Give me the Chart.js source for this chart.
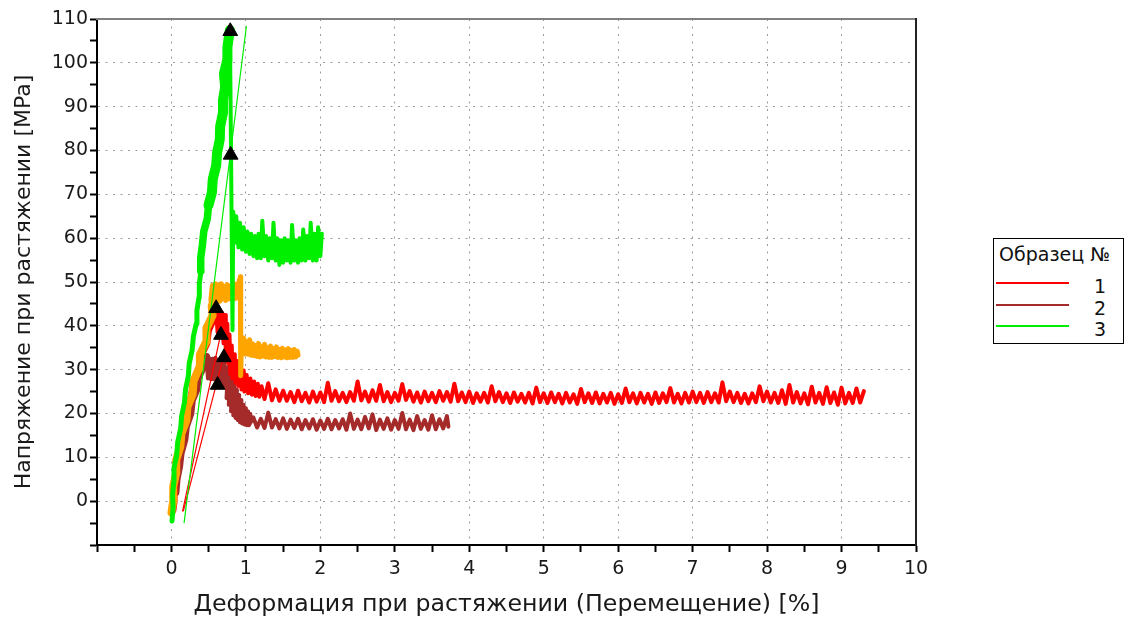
<!DOCTYPE html>
<html lang="ru">
<head>
<meta charset="utf-8">
<title>Напряжение при растяжении</title>
<script src="https://cdn.jsdelivr.net/npm/chart.js@4.4.0/dist/chart.umd.min.js"></script>
<style>
  html, body { margin: 0; padding: 0; background: #fff; }
  #wrap { position: relative; width: 1126px; height: 620px; }
  #tensionChart { position: absolute; left: 0; top: 0; }
  #legendBox {
    position: absolute; left: 993px; top: 238px; width: 131px; height: 106px;
    box-sizing: border-box; border: 1.5px solid #000; background: #fff;
    font-family: "DejaVu Sans", sans-serif; font-size: 19px; color: #111;
  }
  #legendBox .title { position: absolute; left: 5px; top: 4px; white-space: nowrap; }
  #legendBox .row { position: absolute; left: 0; width: 128px; height: 22px; }
  #legendBox .swatch { position: absolute; left: 2px; top: 7px; width: 73px; height: 2px; }
  #legendBox .num { position: absolute; left: 100px; top: 0; line-height: 22px; }
</style>
</head>
<body>
<div id="wrap">
  <canvas id="tensionChart" width="1126" height="620"></canvas>
  <div id="legendBox"><div class="title">Образец №</div></div>
</div>
<script>
// Ejes
const strainTicks = [0, 1, 2, 3, 4, 5, 6, 7, 8, 9, 10];
const stressTicks = [0, 10, 20, 30, 40, 50, 60, 70, 80, 90, 100, 110];

// Leyenda
const seriesNames = ['1', '2', '3'];
const seriesColors = ['#ff0000', '#a52a2a', '#00ee00'];
const extraColor = '#ffa500';

// Образец 1 (rojo): [deformación %, tensión MPa] - subida
const rise1 = [
  [0.02,-2],[0.035,0],[0.035,3],[0.06,6],[0.065,9],[0.11,12],[0.125,15],[0.185,18],[0.20,21],[0.27,24],
  [0.29,27],[0.37,30],[0.39,33],[0.475,36],[0.497,39],[0.577,42],[0.60,43]
];
// Образец 1 - pico, caída y meseta
const tail1 = [
  [0.60,43],[0.62,38.5],[0.64,43.3],[0.66,37.5],[0.68,43],[0.70,36],[0.72,42.5],[0.73,34],[0.75,40.5],[0.76,31.5],
  [0.78,38],[0.79,29],[0.81,35.5],[0.82,28],[0.85,33.5],[0.86,27],[0.89,32],[0.90,26.3],[0.93,30.8],[0.94,25.5],
  [0.97,29.8],[0.98,25],[1.01,28.8],[1.03,24.6],[1.06,28],[1.08,24.3],[1.11,27.3],[1.13,24.0],[1.16,26.8],[1.18,23.8],
  [1.21,26.2],
  [1.25,23.3],[1.30,26.9],[1.35,23.0],[1.40,25.5],[1.45,22.9],[1.50,25.2],[1.55,22.9],[1.60,24.9],[1.65,22.6],[1.70,25.2],
  [1.75,22.8],[1.80,24.7],[1.85,22.5],[1.90,25.0],[1.95,22.7],[2.00,24.8],[2.05,22.6],[2.10,27.0],[2.15,22.9],[2.20,25.1],
  [2.25,22.8],[2.30,24.7],[2.35,22.6],[2.40,24.9],[2.45,22.9],[2.50,27.3],[2.55,23.0],[2.60,25.0],[2.65,22.7],[2.70,25.3],
  [2.75,22.9],[2.80,26.5],[2.85,22.8],[2.90,24.9],[2.95,22.6],[3.00,24.7],[3.05,22.9],[3.10,26.7],[3.15,23.1],[3.20,25.1],
  [3.25,22.7],[3.30,24.8],[3.35,22.5],[3.40,25.0],[3.45,22.8],[3.50,24.7],[3.55,22.6],[3.60,25.1],[3.65,22.9],[3.70,24.9],
  [3.75,22.7],[3.80,26.8],[3.85,22.8],[3.90,24.8],[3.95,22.6],[4.00,25.0],[4.05,22.4],[4.10,24.6],[4.15,22.7],[4.20,24.7],
  [4.25,22.5],[4.30,26.2],[4.35,22.8],[4.40,24.9],[4.45,22.6],[4.50,24.6],[4.55,22.4],[4.60,24.8],[4.65,22.7],[4.70,24.5],
  [4.75,22.5],[4.80,24.7],[4.85,22.3],[4.90,25.9],[4.95,22.6],[5.00,24.6],[5.05,22.4],[5.10,24.8],[5.15,22.6],[5.20,24.5],
  [5.25,22.3],[5.30,24.7],[5.35,22.5],[5.40,24.4],[5.45,22.2],[5.50,25.6],[5.55,22.6],[5.60,24.6],[5.65,22.4],[5.70,24.8],
  [5.75,22.3],[5.80,24.5],[5.85,22.5],[5.90,24.7],[5.95,22.2],[6.00,24.4],[6.05,22.4],[6.10,25.7],[6.15,22.6],[6.20,24.6],
  [6.25,22.3],[6.30,24.7],[6.35,22.5],[6.40,24.5],[6.45,22.2],[6.50,24.8],[6.55,22.4],[6.60,24.6],[6.65,22.6],[6.70,25.8],
  [6.75,22.5],[6.80,24.5],[6.85,22.3],[6.90,24.7],[6.95,22.5],[7.00,25.0],[7.05,22.6],[7.10,24.7],[7.15,22.4],[7.20,24.9],
  [7.25,22.6],[7.30,24.6],[7.35,22.5],[7.40,27.1],[7.45,22.8],[7.50,25.0],[7.55,22.6],[7.60,24.7],[7.65,22.4],[7.70,24.5],
  [7.75,22.3],[7.80,24.6],[7.85,22.6],[7.90,26.2],[7.95,22.8],[8.00,25.0],[8.05,22.5],[8.10,24.7],[8.15,22.4],[8.20,25.3],
  [8.25,22.2],[8.30,26.5],[8.35,22.5],[8.40,24.9],[8.45,22.3],[8.50,24.6],[8.55,22.1],[8.60,26.1],[8.65,22.5],[8.70,24.7],
  [8.75,22.2],[8.80,26.0],[8.85,22.4],[8.90,24.8],[8.95,22.0],[9.00,25.9],[9.05,22.3],[9.10,24.7],[9.15,22.4],[9.20,25.7],
  [9.25,22.5],[9.30,25.1]
];

// Образец 2 (marrón)
const rise2 = [
  [0.06,2],[0.075,5],[0.11,8],[0.13,11],[0.18,14],[0.20,17],[0.26,20],[0.28,23],[0.342,25.5],
  [0.358,28],[0.442,31],[0.47,33]
];
const tail2 = [
  [0.47,33],[0.49,28],[0.51,32.6],[0.53,27.8],[0.55,32.5],[0.57,27.8],[0.59,32.7],[0.61,27.5],[0.63,32.3],[0.65,27.3],
  [0.67,32.5],[0.69,26.8],[0.71,32],[0.72,26],
  [0.76,30.6],[0.74,23.5],[0.79,29.2],[0.77,22],[0.82,28],[0.80,20.5],[0.85,26.6],[0.83,19.6],[0.88,25.4],[0.86,19],
  [0.91,24.2],[0.89,18.5],[0.94,23.1],[0.92,18],[0.97,22],[0.95,17.7],[1.00,21.2],[0.98,17.5],[1.03,20.5],[1.01,17.3],
  [1.06,19.9],[1.04,17.3],
  [1.10,19.1],[1.15,16.8],[1.20,18.8],[1.25,16.7],[1.30,20.2],[1.35,16.8],[1.40,18.7],[1.45,16.6],[1.50,18.9],[1.55,16.5],
  [1.60,18.6],[1.65,16.7],[1.70,18.8],[1.75,16.4],[1.80,18.5],[1.85,16.6],[1.90,18.7],[1.95,16.3],[2.00,18.4],[2.05,16.5],
  [2.10,18.8],[2.15,16.4],[2.20,18.5],[2.25,16.6],[2.30,18.7],[2.35,16.3],[2.40,20.0],[2.45,16.5],[2.50,18.6],[2.55,16.4],
  [2.60,19.2],[2.65,16.6],[2.70,19.8],[2.75,16.2],[2.80,18.6],[2.85,16.5],[2.90,18.9],[2.95,16.3],[3.00,18.5],[3.05,16.5],
  [3.10,20.1],[3.15,16.4],[3.20,18.6],[3.25,16.2],[3.30,19.4],[3.35,16.5],[3.40,18.5],[3.45,16.3],[3.50,19.6],[3.55,16.4],
  [3.60,18.7],[3.65,16.6],[3.70,19.4],[3.72,17.0]
];

// Образец 3 (verde): subida (baja, media, alta), caída y meseta
const rise3Low = [
  [0.008,-4.5],[0.022,-1.5],[0.015,1.5],[0.032,4.5],[0.034,7.5],[0.07,10.5],[0.084,13.5],[0.123,16.5],[0.137,19.5],[0.175,22.5],
  [0.189,25.5],[0.226,28.5],[0.239,31.5],[0.278,34.5],[0.294,37.5],[0.333,40.5],[0.342,43.5],[0.37,46.5],[0.374,49.5],[0.396,52.5]
];
const rise3Mid = [
  [0.396,52.5],[0.393,55.5],[0.416,58.5],[0.434,61.5],[0.482,64.5],[0.498,67.5]
];
const rise3High = [
  [0.498,67.5],[0.544,70.5],[0.555,73.5],[0.60,76.5],[0.613,79.5],[0.649,82.5],[0.654,85.5],
  [0.691,88.5],[0.692,91.5],[0.721,94.5],[0.705,97.5],[0.747,100.5],[0.751,103.5],[0.772,106],[0.785,107.5]
];
const tail3 = [
  [0.785,107.5],[0.80,80],[0.82,39],[0.83,66],
  [0.85,58.9],[0.87,65.0],[0.90,57.9],[0.92,63.5],[0.95,57.4],[0.97,62.5],[1.00,56.9],[1.02,61.5],[1.05,56.4],[1.07,61.0],
  [1.10,55.9],[1.12,60.5],[1.15,55.4],[1.17,61.0],[1.20,55.4],[1.22,64.0],[1.25,55.9],[1.27,60.5],[1.30,54.9],[1.32,60.0],
  [1.35,55.4],[1.37,63.5],[1.40,54.9],[1.42,60.0],[1.45,53.9],[1.47,59.5],[1.50,54.4],[1.52,60.0],[1.55,54.9],[1.57,59.5],
  [1.60,54.4],[1.62,63.0],[1.65,54.9],[1.67,59.5],[1.70,54.4],[1.72,60.0],[1.75,54.9],[1.77,62.0],[1.80,54.9],[1.82,60.5],
  [1.85,55.4],[1.87,63.5],[1.90,54.9],[1.92,61.0],[1.95,54.9],[1.97,62.5],[2.00,55.9],[2.02,61.0]
];

// Curva naranja (sin entrada en la leyenda)
const riseOrange = [
  [0.0,-2.6],[0.027,0.4],[0.024,3.4],[0.064,6.4],[0.064,9.4],[0.119,12.4],[0.134,15.4],[0.201,18.4],[0.213,21.4],[0.285,24.4],
  [0.297,27.4],[0.372,30.4],[0.382,33.4],[0.467,36.4],[0.47,39.4],[0.553,42.4],[0.54,44.5]
];
const tailOrange = [
  [0.54,44.5],[0.53,46],[0.55,49.2],[0.57,45.7],[0.59,49.6],[0.61,45.9],[0.63,49.3],[0.65,45.6],[0.67,49.6],[0.69,46.1],
  [0.71,49.0],[0.73,45.8],[0.75,49.4],[0.77,46.2],[0.79,49.1],[0.81,45.9],[0.83,49.8],[0.85,46.2],[0.87,49.4],[0.89,46.4],
  [0.91,50.4],[0.92,46.8],[0.925,51.2],[0.93,28.6],[0.94,36.5],
  [0.95,33.8],[0.97,37.2],[0.99,33.6],[1.01,36.4],[1.03,33.5],[1.05,36.8],[1.07,33.3],[1.09,35.9],[1.11,33.2],[1.13,35.5],
  [1.15,33.0],[1.17,36.0],[1.19,32.9],[1.21,35.2],[1.23,33.1],[1.25,35.8],[1.27,32.9],[1.29,35.0],[1.31,32.8],[1.33,35.4],
  [1.35,32.8],[1.37,34.8],[1.39,33.0],[1.41,35.2],[1.43,32.8],[1.45,34.6],[1.47,32.7],[1.49,34.9],[1.51,32.9],[1.53,34.5],
  [1.55,32.7],[1.57,34.8],[1.59,32.8],[1.61,34.4],[1.63,32.8],[1.65,34.6],[1.67,32.9],[1.69,34.2],[1.70,33.3]
];

// Rectas de módulo
const modulusLine1 = [[0.15,-2.2],[0.665,38.4]];
const modulusLine2 = [[0.16,-2.2],[0.705,33.3]];
const modulusLine3 = [[0.17,-4.9],[1.006,108.3]];

// Marcadores (triángulos)
const markerPoints = [[0.79,107.2],[0.795,79],[0.60,44],[0.665,37.9],[0.705,32.8],[0.62,26.5]];

const fontFamily = '"DejaVu Sans", Verdana, sans-serif';
const toPoints = pairs => pairs.map(p => ({ x: p[0], y: p[1] }));

function lineDataset(pairs, color, width) {
    return {
        data: toPoints(pairs),
        borderColor: color,
        backgroundColor: color,
        borderWidth: width,
        borderJoinStyle: 'round',
        borderCapStyle: 'round',
        pointRadius: 0,
        showLine: true,
        fill: false,
        tension: 0
    };
}

// Rejilla punteada solo en los valores enteros
function gridColor(ticks, lo, hi) {
    return function(ctx) {
        if (!ctx.tick) return 'rgba(0,0,0,0)';
        const v = ctx.tick.value;
        return (ticks.includes(v) && v > lo && v < hi) ? '#9a9a9a' : 'rgba(0,0,0,0)';
    };
}

function createTensionChart() {
    const ctx = document.getElementById('tensionChart').getContext('2d');
    const markers = {
        data: toPoints(markerPoints),
        showLine: false,
        pointStyle: 'triangle',
        pointRadius: 8.5,
        backgroundColor: '#000',
        borderColor: '#000',
        borderWidth: 1
    };
    return new Chart(ctx, {
        type: 'scatter',
        data: {
            datasets: [
                markers,
                lineDataset(modulusLine3, seriesColors[2], 1.2),
                lineDataset(modulusLine1, seriesColors[0], 1.2),
                lineDataset(modulusLine2, seriesColors[0], 1.2),
                lineDataset(tail3, seriesColors[2], 4),
                lineDataset(rise3High, seriesColors[2], 10),
                lineDataset(rise3Mid, seriesColors[2], 7.5),
                lineDataset(rise3Low, seriesColors[2], 5),
                lineDataset(tailOrange, extraColor, 5),
                lineDataset(riseOrange, extraColor, 8),
                lineDataset(tail1, seriesColors[0], 4),
                lineDataset(rise1, seriesColors[0], 7),
                lineDataset(tail2, seriesColors[1], 4),
                lineDataset(rise2, seriesColors[1], 7)
            ]
        },
        options: {
            responsive: false,
            animation: false,
            events: [],
            layout: { padding: { left: 0, right: 210, top: 19, bottom: 0 } },
            plugins: { legend: { display: false }, tooltip: { enabled: false } },
            scales: {
                x: {
                    type: 'linear', position: 'bottom', min: -1, max: 10,
                    afterFit: s => { s.height = 75; },
                    ticks: {
                        stepSize: 0.5, autoSkip: false, maxRotation: 0, padding: 6,
                        color: '#1a1a1a', font: { family: fontFamily, size: 19 },
                        callback: v => strainTicks.includes(v) ? String(v) : ''
                    },
                    grid: { color: gridColor(strainTicks, -1, 10), lineWidth: 1, tickColor: '#000', tickWidth: 2, tickLength: 7 },
                    border: { color: '#000', width: 2, dash: [2, 5.5] },
                    title: {
                        display: true, text: 'Деформация при растяжении (Перемещение) [%]',
                        color: '#1a1a1a', font: { family: fontFamily, size: 23.7 }, padding: { top: 0, bottom: 1 }
                    }
                },
                y: {
                    type: 'linear', position: 'left', min: -10, max: 110,
                    afterFit: s => { s.width = 97; },
                    ticks: {
                        stepSize: 5, autoSkip: false, padding: 2,
                        color: '#1a1a1a', font: { family: fontFamily, size: 19 },
                        callback: v => stressTicks.includes(v) ? String(v) : ''
                    },
                    grid: { color: gridColor(stressTicks, -10, 110), lineWidth: 1, tickColor: '#000', tickWidth: 2, tickLength: 7 },
                    border: { color: '#000', width: 2, dash: [2, 5.5] },
                    title: {
                        display: true, text: 'Напряжение при растяжении [MPa]',
                        color: '#1a1a1a', font: { family: fontFamily, size: 22 }, padding: { top: 11, bottom: 0 }
                    }
                },
                xTop: {
                    type: 'linear', position: 'top', min: -1, max: 10,
                    afterFit: s => { s.height = 0; },
                    ticks: { display: false },
                    grid: { display: false, drawTicks: false },
                    border: { display: true, color: '#808080', width: 2 }
                },
                yRight: {
                    type: 'linear', position: 'right', min: -10, max: 110,
                    afterFit: s => { s.width = 0; },
                    ticks: { display: false },
                    grid: { display: false, drawTicks: false },
                    border: { display: true, color: '#222', width: 2 }
                }
            }
        }
    });
}

// Leyenda "Образец №"
function buildLegend() {
    const box = document.getElementById('legendBox');
    seriesNames.forEach((name, i) => {
        const row = document.createElement('div');
        row.className = 'row';
        row.style.top = (36 + i * 21.5) + 'px';
        const swatch = document.createElement('div');
        swatch.className = 'swatch';
        swatch.style.background = seriesColors[i];
        const num = document.createElement('span');
        num.className = 'num';
        num.textContent = name;
        row.appendChild(swatch);
        row.appendChild(num);
        box.appendChild(row);
    });
}

createTensionChart();
buildLegend();
</script>
</body>
</html>
